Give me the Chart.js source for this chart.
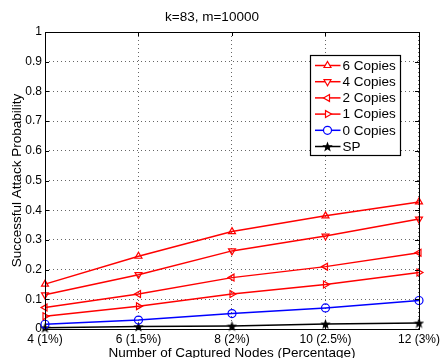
<!DOCTYPE html>
<html lang="en">
<head>
    <meta charset="UTF-8">
    <title>k=83, m=10000</title>
    <script src="https://cdn.jsdelivr.net/npm/chart.js"></script>
    <style>
        html, body { margin: 0; padding: 0; background: #fff; }
        #wrap { width: 443px; height: 358px; }
    </style>
</head>
<body>
    <div id="wrap"><canvas id="attackChart"></canvas></div>

    <script>
        const nodeLabels = ['4 (1%)', '6 (1.5%)', '8 (2%)', '10 (2.5%)', '12 (3%)'];
        const copies6 = [0.151, 0.245, 0.328, 0.381, 0.428];
        const copies4 = [0.115, 0.183, 0.263, 0.313, 0.370];
        const copies2 = [0.072, 0.118, 0.173, 0.210, 0.257];
        const copies1 = [0.043, 0.077, 0.118, 0.150, 0.190];
        const copies0 = [0.016, 0.030, 0.052, 0.071, 0.096];
        const spValues = [0.004, 0.008, 0.010, 0.017, 0.020];

        const FONT = "'Liberation Sans', Arial, Helvetica, sans-serif";

        // filled pentagram for the SP series (MATLAB 'p' style)
        function makeStar(size) {
            const c = document.createElement('canvas');
            c.width = size; c.height = size;
            const g = c.getContext('2d');
            const cx = size / 2, cy = size / 2 + 0.5;
            const R = size / 2, r = R * 0.42;
            g.beginPath();
            for (let i = 0; i < 10; i++) {
                const rad = i % 2 === 0 ? R : r;
                const a = -Math.PI / 2 + i * Math.PI / 5;
                const px = cx + rad * Math.cos(a), py = cy + rad * Math.sin(a);
                if (i === 0) g.moveTo(px, py); else g.lineTo(px, py);
            }
            g.closePath();
            g.fillStyle = '#000';
            g.fill();
            return c;
        }
        const starImg = makeStar(11);

        function series(label, data, color, style, rotation) {
            return {
                label: label,
                data: data,
                borderColor: color,
                backgroundColor: 'rgba(0,0,0,0)',
                borderWidth: 1.5,
                pointStyle: style,
                pointRotation: rotation || 0,
                pointRadius: 4,
                pointBorderWidth: 1.2,
                pointBorderColor: color,
                pointBackgroundColor: 'rgba(0,0,0,0)',
                tension: 0,
                clip: false
            };
        }

        // box, inner tick marks and the legend inside the axes, like MATLAB
        const matlabFrame = {
            id: 'matlabFrame',
            afterDatasetsDraw(chart) {
                const ctx = chart.ctx;
                const a = chart.chartArea;
                const xs = chart.scales.x, ys = chart.scales.y;
                ctx.save();
                ctx.strokeStyle = '#000';
                ctx.lineWidth = 1;
                ctx.strokeRect(Math.round(a.left) + 0.5, Math.round(a.top) + 0.5,
                    Math.round(a.right - a.left), Math.round(a.bottom - a.top));
                ctx.beginPath();
                ys.ticks.forEach((t, i) => {
                    const y = Math.round(ys.getPixelForTick(i)) + 0.5;
                    ctx.moveTo(a.left, y); ctx.lineTo(a.left + 4, y);
                    ctx.moveTo(a.right, y); ctx.lineTo(a.right - 4, y);
                });
                xs.ticks.forEach((t, i) => {
                    const x = Math.round(xs.getPixelForTick(i)) + 0.5;
                    ctx.moveTo(x, a.bottom); ctx.lineTo(x, a.bottom - 4);
                    ctx.moveTo(x, a.top); ctx.lineTo(x, a.top + 4);
                });
                ctx.stroke();

                // legend box
                const bx = Math.round(a.right) - 108.5, by = Math.round(a.top) + 23.5;
                const bw = 90, bh = 100, rowH = 16.2;
                ctx.fillStyle = '#fff';
                ctx.fillRect(bx, by, bw, bh);
                ctx.strokeStyle = '#000';
                ctx.lineWidth = 1.2;
                ctx.strokeRect(bx, by, bw, bh);
                ctx.font = '13.5px ' + FONT;
                ctx.textBaseline = 'middle';
                chart.data.datasets.forEach((ds, i) => {
                    const y = by + 10 + i * rowH;
                    ctx.strokeStyle = ds.borderColor;
                    ctx.lineWidth = 1.5;
                    ctx.beginPath();
                    ctx.moveTo(bx + 4.5, y); ctx.lineTo(bx + 30, y);
                    ctx.stroke();
                    ctx.fillStyle = '#fff';
                    ctx.lineWidth = 1.2;
                    Chart.helpers.drawPoint(ctx, {
                        pointStyle: ds.pointStyle,
                        rotation: ds.pointRotation,
                        radius: 4,
                        borderWidth: 1.2
                    }, bx + 17, y);
                    ctx.fillStyle = '#000';
                    ctx.fillText(ds.label, bx + 32, y + 0.5);
                });
                ctx.restore();
            }
        };

        const gridStyle = {
            color: 'rgba(0,0,0,0.6)',
            lineWidth: 1,
            drawTicks: false
        };

        new Chart(document.getElementById('attackChart'), {
            type: 'line',
            data: {
                labels: nodeLabels,
                datasets: [
                    series('6 Copies', copies6, '#ff0000', 'triangle', 0),
                    series('4 Copies', copies4, '#ff0000', 'triangle', 180),
                    series('2 Copies', copies2, '#ff0000', 'triangle', -90),
                    series('1 Copies', copies1, '#ff0000', 'triangle', 90),
                    series('0 Copies', copies0, '#0000ff', 'circle', 0),
                    series('SP', spValues, '#000000', starImg, 0)
                ]
            },
            options: {
                responsive: true,
                maintainAspectRatio: false,
                animation: false,
                layout: { padding: { left: 0, right: 19, top: 0, bottom: 0 } },
                plugins: {
                    legend: { display: false },
                    tooltip: { enabled: false },
                    title: {
                        display: true,
                        text: 'k=83, m=10000',
                        color: '#000',
                        font: { family: FONT, size: 13.5, weight: 'normal' },
                        padding: { top: 9, bottom: 6.8 }
                    }
                },
                scales: {
                    x: {
                        type: 'category',
                        offset: false,
                        afterFit: s => { s.height = 29; },
                        border: { display: false, dash: [1, 3] },
                        grid: gridStyle,
                        ticks: {
                            color: '#000',
                            padding: 3,
                            maxRotation: 0,
                            autoSkip: false,
                            font: { family: FONT, size: 12 }
                        },
                        title: {
                            display: true,
                            text: 'Number of Captured Nodes (Percentage)',
                            color: '#000',
                            font: { family: FONT, size: 13.5 },
                            padding: { top: 0, bottom: -3 }
                        }
                    },
                    y: {
                        min: 0,
                        max: 1,
                        afterFit: s => { s.width = 45; },
                        border: { display: false, dash: [1, 3] },
                        grid: gridStyle,
                        ticks: {
                            stepSize: 0.1,
                            color: '#000',
                            padding: 3,
                            font: { family: FONT, size: 12 },
                            callback: v => Math.round(v * 10) / 10
                        },
                        title: {
                            display: true,
                            text: 'Successful Attack Probability',
                            color: '#000',
                            font: { family: FONT, size: 13.5 },
                            padding: { top: 9, bottom: 0 }
                        }
                    }
                }
            },
            plugins: [matlabFrame]
        });
    </script>
</body>
</html>
